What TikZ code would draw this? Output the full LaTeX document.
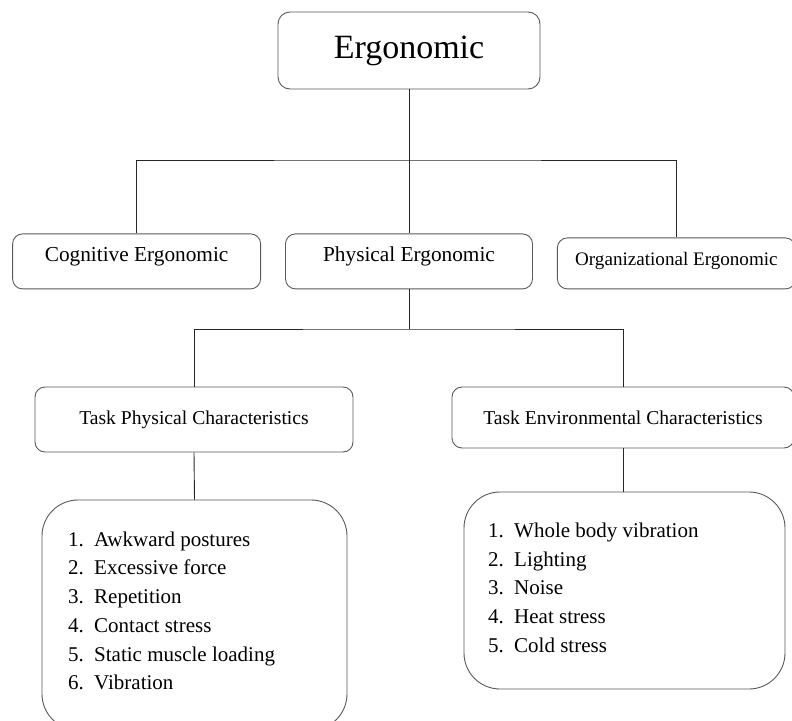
\documentclass[tikz,border=0pt]{standalone}
\usepackage{fontspec}
\setmainfont{Liberation Serif}
\usetikzlibrary{positioning}
\tikzset{
    box/.style ={draw=black!65, line width=0.9pt, rounded corners=10pt, align=center, inner sep=0pt},
    headbox/.style ={box, rounded corners=12pt, minimum width=262pt, minimum height=77pt, font=\fontsize{34}{40}\selectfont},
    catbox/.style ={box, minimum height=55pt, text depth=14pt, font=\fontsize{21.3}{25}\selectfont},
    taskbox/.style ={box, font=\fontsize{19.6}{23}\selectfont},
    listbox/.style ={draw=black!65, line width=0.9pt, rounded corners=36pt, inner sep=0pt},
    listtext/.style ={anchor=north west, align=left, inner sep=0pt, font=\fontsize{21}{28.7}\selectfont},
    link/.style = {draw=black!85, line width=0.9pt}
}
\newcommand{\itm}[2]{\makebox[26pt][l]{#1.}#2}

\begin{document}
\begin{tikzpicture}[x=1pt, y=-1pt]
\useasboundingbox (0,0) rectangle (792,720);

% Nodes
\node[headbox] (ergo) at (409,50.5) {Ergonomic};
\node[catbox, minimum width=247pt, below=144pt of ergo] (phys) {Physical Ergonomic};
\node[catbox, minimum width=248pt, left=24pt of phys] (cog) {Cognitive Ergonomic};
\node[catbox, minimum width=238pt, minimum height=51pt, text depth=10pt, font=\fontsize{19.1}{22}\selectfont,
      right=24pt of phys.south east, anchor=south west] (org) {Organizational Ergonomic};

\node[taskbox, minimum width=318pt, minimum height=65pt] (taskphy) at (194,419.5) {Task Physical Characteristics};
\node[taskbox, minimum width=342pt, minimum height=61pt] (taskenv) at (623,417.5) {Task Environmental Characteristics};

\node[listbox, minimum width=305pt, minimum height=230pt] (phylist) at (194.5,615) {};
\node[listbox, minimum width=321pt, minimum height=197pt] (envlist) at (624.5,590.5) {};

\node[listtext] (phyitems) at (68,531.5) {\itm{1}{Awkward postures}\\ \itm{2}{Excessive force}\\ \itm{3}{Repetition}\\
  \itm{4}{Contact stress}\\ \itm{5}{Static muscle loading}\\ \itm{6}{Vibration}};
\node[listtext] (envitems) at (488,522.7) {\itm{1}{Whole body vibration}\\ \itm{2}{Lighting}\\ \itm{3}{Noise}\\
  \itm{4}{Heat stress}\\ \itm{5}{Cold stress}};

% Paths
\coordinate (bus1) at (409,160);
\coordinate (bus2) at (409,329);
\draw[link] (ergo.south) -- (bus1);
\draw[link] (cog.north) |- (bus1) -| (org.north);
\draw[link] (bus1) -- (phys.north);
\draw[link] (phys.south) -- (bus2);
\draw[link] (taskphy.north) |- (bus2) -| (taskenv.north);
\draw[link] (taskphy.south) -- (phylist.north);
\draw[link] (taskenv.south) -- (taskenv.south |- envlist.north);

\end{tikzpicture}
\end{document}
